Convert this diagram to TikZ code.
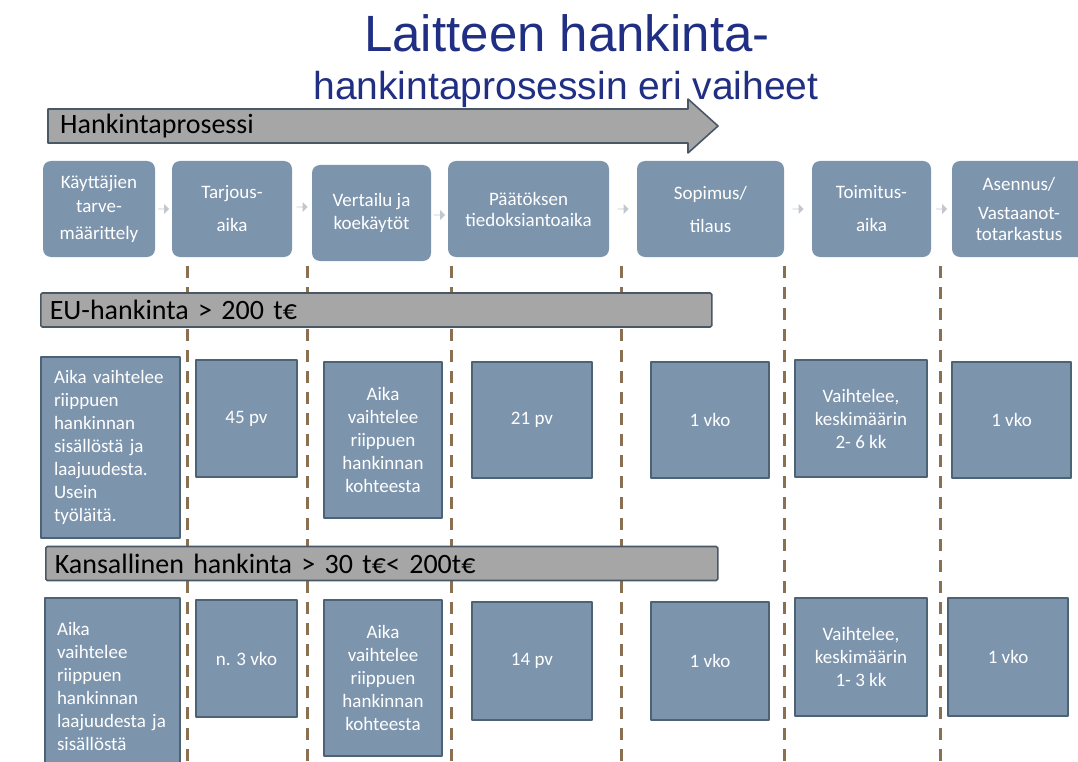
\documentclass[tikz,border=0pt]{standalone}
\usepackage{fontspec}
\setmainfont{Carlito}
\newfontfamily\headfont{Liberation Sans}
\usetikzlibrary{calc,shapes.arrows}
\definecolor{cTitle}{HTML}{202F84}
\definecolor{cBox}{HTML}{7D94AD}
\definecolor{cBoxEdge}{HTML}{4E6275}
\definecolor{cBar}{HTML}{A6A6A6}
\definecolor{cBarEdge}{HTML}{4A5866}
\definecolor{cDash}{HTML}{8A7050}
\definecolor{cTick}{HTML}{C2C8D0}

\begin{document}
\begin{tikzpicture}[
  x=1pt, y=-1pt,
  font=\fontsize{19}{23}\selectfont,
  line join=round,
  phase/.style={fill=cBox, rounded corners=8pt, text=white, align=center,
    inner sep=2pt, minimum height=96},
  cell/.style={draw=cBoxEdge, line width=1.6pt, fill=cBox, text=white,
    align=center, inner sep=4pt},
  band/.style={draw=cBarEdge, line width=1.6pt, fill=cBar, rounded corners=1.5pt,
    minimum height=34, anchor=west, align=left, inner xsep=9pt, inner ysep=0pt,
    font=\fontsize{28}{30}\selectfont},
  nextmark/.style={single arrow, fill=cTick, minimum height=11pt, minimum width=10pt,
    single arrow head extend=2pt, inner sep=0pt},
  divider/.style={draw=cDash, line width=3pt, dash pattern=on 12pt off 9pt},
  titlelab/.style={font=\headfont\fontsize{51}{56}\selectfont, text=cTitle, anchor=base},
  sublab/.style={font=\headfont\fontsize{39}{44}\selectfont, text=cTitle, anchor=base},
]
\useasboundingbox (0,0) rectangle (1078,762);

% ---- Title ----
\node[titlelab] (title) at (567,52) {Laitteen hankinta-};
\node[sublab] (subtitle) at (566,100) {hankintaprosessin eri vaiheet};

% ---- Process arrow ----
\draw[draw=cBarEdge, line width=1.6pt, fill=cBar]
  (48,109) -- (688,109) -- (688,99) -- (718,126) -- (688,153) -- (688,143)
  -- (48,143) -- cycle;
\node[anchor=west, font=\fontsize{28}{30}\selectfont, inner sep=0pt] (proc)
  at (60,126) {Hankintaprosessi};

% ---- Phase boxes ----
\node[phase, minimum width=112] (t1) at (99,209)
  {Käyttäjien\\[1pt]tarve-\\[4pt]määrittely};
\node[phase, minimum width=120] (t2) at (232,209) {Tarjous-\\[10pt]aika};
\node[phase, minimum width=119] (t3) at (371.5,213) {Vertailu ja\\koekäytöt};
\node[phase, minimum width=161] (t4) at (528.5,209)
  {Päätöksen\\[-2pt]tiedoksiantoaika};
\node[phase, minimum width=147] (t5) at (710.5,209) {Sopimus/\\[10pt]tilaus};
\node[phase, minimum width=119] (t6) at (871.5,209) {Toimitus-\\[10pt]aika};
\node[phase, minimum width=134] (t7) at (1019,209)
  {Asennus/\\[6pt]Vastaanot-\\[-2pt]totarkastus};

\node[nextmark] (m1) at ($(t1.east)!0.5!(t2.west)$) {};
\node[nextmark] (m2) at ($(t2.east)!0.5!(t3.west)+(0,-4)$) {};
\node[nextmark] (m3) at ($(t3.east)!0.5!(t4.west)+(0,4)$) {};
\node[nextmark] (m4) at ($(t4.east)!0.5!(t5.west)$) {};
\node[nextmark] (m5) at ($(t5.east)!0.5!(t6.west)$) {};
\node[nextmark] (m6) at ($(t6.east)!0.5!(t7.west)$) {};

% ---- Phase dividers ----
\foreach \x in {187,307,451,621,784,940}{
  \draw[divider] (\x,266) -- (\x,770);
}

% ---- EU procurement ----
\node[band, text width=653] (eu) at (40,310) {EU-hankinta > 200 t€};

\node[cell, align=left, inner xsep=13pt, text width=113, minimum height=181]
  (e1) at (110.5,447.5)
  {Aika vaihtelee\\riippuen\\hankinnan\\sisällöstä ja\\laajuudesta.\\Usein\\työläitä.};
\node[cell, minimum width=101, minimum height=117] (e2) at (246.5,418.5) {45 pv};
\node[cell, minimum width=118, minimum height=156] (e3) at (383,440)
  {Aika\\vaihtelee\\riippuen\\hankinnan\\kohteesta};
\node[cell, minimum width=120, minimum height=116] (e4) at (532,420) {21 pv};
\node[cell, minimum width=118, minimum height=116] (e5) at (710,420) {1 vko};
\node[cell, minimum width=132, minimum height=117] (e6) at (861,418.5)
  {Vaihtelee,\\keskimäärin\\2- 6 kk};
\node[cell, minimum width=119, minimum height=116] (e7) at (1011.5,420) {1 vko};

% ---- National procurement ----
\node[band, text width=654] (nat) at (45,563.5) {Kansallinen hankinta > 30 t€< 200t€};

\node[cell, align=left, inner xsep=12pt, text width=111, minimum height=177]
  (k1) at (112.5,686.5)
  {Aika\\vaihtelee\\riippuen\\hankinnan\\laajuudesta ja\\sisällöstä};
\node[cell, minimum width=101, minimum height=117] (k2) at (246.5,658.5) {n. 3 vko};
\node[cell, minimum width=118, minimum height=156] (k3) at (383,678)
  {Aika\\vaihtelee\\riippuen\\hankinnan\\kohteesta};
\node[cell, minimum width=120, minimum height=118] (k4) at (532,661) {14 pv};
\node[cell, minimum width=118, minimum height=118] (k5) at (710,661) {1 vko};
\node[cell, minimum width=132, minimum height=118] (k6) at (861,657)
  {Vaihtelee,\\keskimäärin\\1- 3 kk};
\node[cell, minimum width=120, minimum height=118] (k7) at (1008,657) {1 vko};

\end{tikzpicture}
\end{document}
